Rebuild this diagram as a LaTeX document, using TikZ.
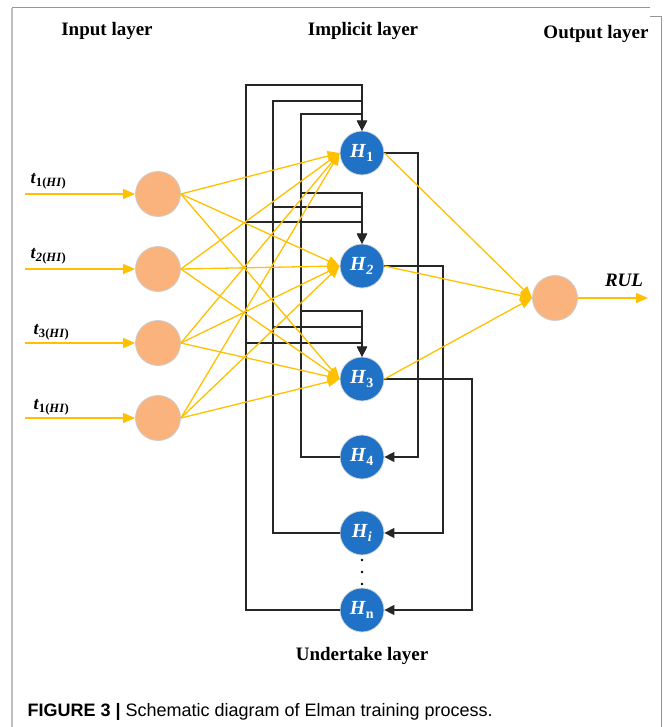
\documentclass[tikz,border=0pt]{standalone}
\usepackage{fontspec}
\setmainfont{Liberation Serif}
\newfontfamily\capfont{Liberation Sans}
\usetikzlibrary{arrows.meta}
\definecolor{bluefill}{RGB}{31,114,198}
\definecolor{orfill}{RGB}{251,179,126}
\definecolor{yel}{RGB}{255,192,0}
\definecolor{frame}{RGB}{150,150,150}
\definecolor{lframe}{RGB}{190,190,190}
\tikzset{
  inp/.style={circle, fill=orfill, draw=black!20, line width=0.8pt, minimum size=45pt, inner sep=0pt},
  hid/.style={circle, fill=bluefill, draw=black!15, line width=0.8pt, minimum size=44pt, inner sep=0pt, text=white, font=\fontsize{20}{20}\selectfont\bfseries},
  ya/.style={draw=yel, line width=1.3pt, -{Triangle[length=12pt,width=10pt]}},
  ba/.style={draw=black!85, line width=1.5pt, -{Triangle[length=10pt,width=10pt]}},
  lay/.style={font=\fontsize{19}{19}\selectfont\bfseries},
  tlab/.style={font=\fontsize{18}{18}\selectfont\bfseries},
}
\begin{document}
\begin{tikzpicture}[x=1pt,y=-1pt]
\useasboundingbox (0,0) rectangle (664,727);
% frame
\draw[lframe, line width=1.2pt] (12,727) -- (12,8);
\draw[frame, line width=1pt] (12,8) -- (650,8);
\draw[frame, line width=1pt] (650,17) -- (661,17) -- (661,727);
% layer titles
\node[lay] (tin) at (107,31) {Input layer};
\node[lay] (timp) at (363,31) {Implicit layer};
\node[lay] (tout) at (596,34) {Output layer};
\node[lay] (tund) at (362,656) {Undertake layer};
% input nodes
\node[inp] (i1) at (158,194) {};
\node[inp] (i2) at (158,269) {};
\node[inp] (i3) at (158,343) {};
\node[inp] (i4) at (158,418) {};
% hidden nodes
\node[hid] (h1) at (362,153) {\textit{H}\textsubscript{1}};
\node[hid] (h2) at (362,266) {\textit{H}\textsubscript{\textit{2}}};
\node[hid] (h3) at (362,379) {\textit{H}\textsubscript{3}};
\node[hid] (h4) at (362,457) {\textit{H}\textsubscript{4}};
\node[hid] (hi) at (362,533) {\textit{H}\textsubscript{\textit{i}}};
\node[hid] (hn) at (362,610) {\textit{H}\textsubscript{n}};
% output node
\node[inp] (o) at (555,298) {};
% dots
\fill[black] (362,560) circle (1.4pt) (362,572) circle (1.4pt) (362,584) circle (1.4pt);
% input arrows and labels
\coordinate (s1) at (25,194);
\coordinate (s2) at (25,269);
\coordinate (s3) at (25,343);
\coordinate (s4) at (25,418);
\draw[ya] (s1) -- (i1.west);
\draw[ya] (s2) -- (i2.west);
\draw[ya] (s3) -- (i3.west);
\draw[ya] (s4) -- (i4.west);
\node[tlab, anchor=west] (l1) at (27,181) {\textit{t}\textsubscript{1(\textit{HI})}};
\node[tlab, anchor=west] (l2) at (27,256) {\textit{t}\textsubscript{\textit{2}(\textit{HI})}};
\node[tlab, anchor=west] (l3) at (30,332) {\textit{t}\textsubscript{3(\textit{HI})}};
\node[tlab, anchor=west] (l4) at (30,407) {\textit{t}\textsubscript{1(\textit{HI})}};
% black feedback lines (left)
\draw[ba] (h4.west) -| (301,114) -| (h1.north);
\draw[ba] (hi.west) -| (273,101) -| (h1.north);
\draw[ba] (hn.west) -| (246,85) -| (h1.north);
\draw[ba] (301,193) -| (h2.north);
\draw[ba] (273,207) -| (h2.north);
\draw[ba] (246,222) -| (h2.north);
\draw[ba] (301,311) -| (h3.north);
\draw[ba] (273,327) -| (h3.north);
\draw[ba] (246,343) -| (h3.north);
% black feedback lines (right)
\draw[ba] (h1.east) -- (418,153) |- (h4.east);
\draw[ba] (h2.east) -- (443,266) |- (hi.east);
\draw[ba] (h3.east) -- (472,379) |- (hn.east);
% input to hidden
\foreach \a in {i1,i2,i3,i4}{
  \foreach \b in {h1,h2,h3}{
    \draw[ya] (\a.east) -- (\b.west);
  }
}
% hidden to output
\draw[ya] (h1.east) -- (o.west);
\draw[ya] (h2.east) -- (o.west);
\draw[ya] (h3.east) -- (o.west);
% output arrow
\coordinate (oe) at (648,298);
\draw[ya] (o.east) -- (oe);
\node[lay, font=\fontsize{19}{19}\selectfont\bfseries\itshape] (rul) at (624,280) {RUL};
% caption
\node[anchor=west, font=\capfont\fontsize{18}{18}\selectfont] (cap) at (24,712) {\textbf{FIGURE 3 |} Schematic diagram of Elman training process.};
\end{tikzpicture}
\end{document}
